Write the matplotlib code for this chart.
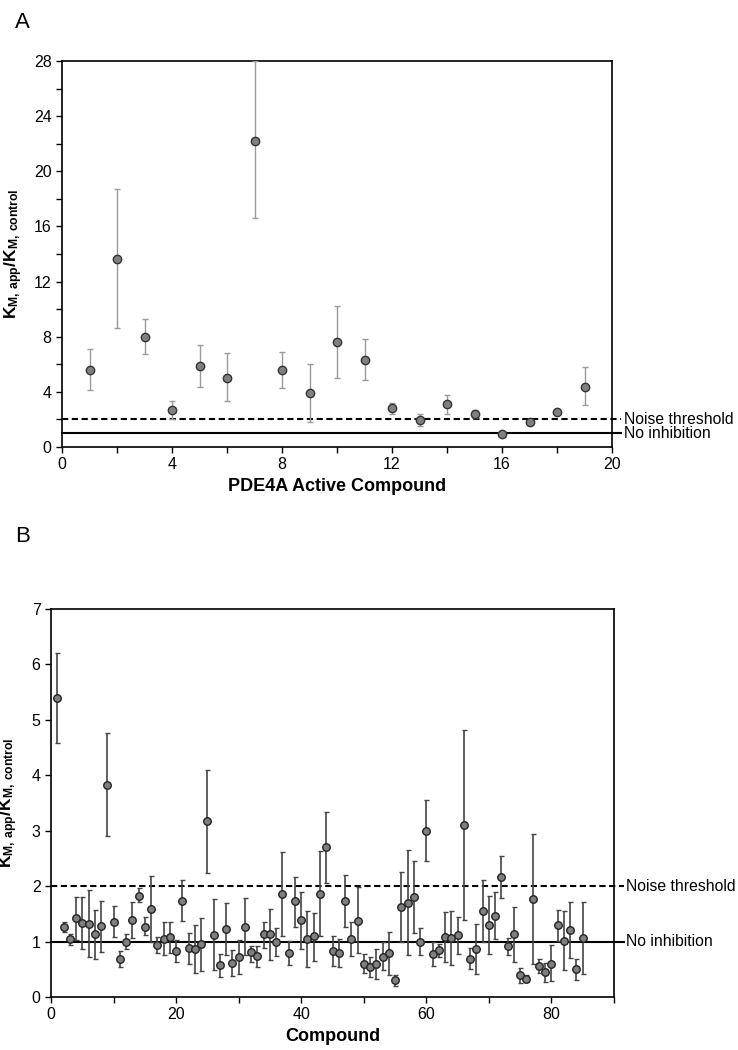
import matplotlib
matplotlib.use("Agg")
import matplotlib.pyplot as plt
import matplotlib.transforms as mtransforms
from matplotlib.ticker import MultipleLocator, FuncFormatter
import numpy as np

plt.rcParams['font.family'] = ['Liberation Sans', 'DejaVu Sans']
plt.rcParams['mathtext.fontset'] = 'custom'
plt.rcParams['mathtext.rm'] = 'Liberation Sans'
plt.rcParams['mathtext.bf'] = 'Liberation Sans:bold'

# Panel A data
a_x = list(range(1, 20))
a_val = [5.61, 13.65, 7.99, 2.71, 5.88, 5.01, 22.22, 5.57, 3.90, 7.62,
         6.29, 2.81, 1.96, 3.10, 2.42, 0.97, 1.79, 2.52, 4.38]
a_hi = [7.14, 18.68, 9.27, 3.34, 7.41, 6.80, 28.0, 6.90, 6.05, 10.21,
        7.84, 3.22, 2.42, 3.80, 2.71, 1.12, 1.92, 2.68, 5.78]
a_lo = [4.11, 8.64, 6.73, 2.06, 4.36, 3.32, 16.58, 4.31, 1.82, 5.03,
        4.84, 2.37, 1.50, 2.42, 2.13, 0.82, 1.66, 2.36, 3.03]

# Panel B data
b_x = list(range(1, 86))
b_val = [5.39, 1.27, 1.04, 1.42, 1.33, 1.32, 1.13, 1.28, 3.82, 1.36,
         0.69, 0.99, 1.39, 1.83, 1.27, 1.59, 0.94, 1.05, 1.08, 0.83,
         1.74, 0.88, 0.875, 0.95, 3.17, 1.125, 0.57, 1.23, 0.61, 0.72,
         1.26, 0.815, 0.74, 1.13, 1.13, 0.99, 1.86, 0.79, 1.73, 1.39,
         1.04, 1.10, 1.86, 2.70, 0.83, 0.79, 1.74, 1.05, 1.375, 0.595,
         0.54, 0.595, 0.73, 0.79, 0.30, 1.625, 1.70, 1.80, 0.99, 3.00,
         0.78, 0.845, 1.09, 1.06, 1.12, 3.10, 0.69, 0.87, 1.55, 1.30,
         1.47, 2.17, 0.92, 1.13, 0.39, 0.33, 1.77, 0.565, 0.45, 0.60,
         1.29, 1.01, 1.21, 0.50, 1.06]
b_hi = [6.21, 1.36, 1.14, 1.81, 1.80, 1.93, 1.57, 1.74, 4.76, 1.65,
        0.83, 1.14, 1.72, 1.96, 1.45, 2.18, 1.09, 1.35, 1.35, 1.03,
        2.11, 1.15, 1.30, 1.43, 4.10, 1.77, 0.78, 1.70, 0.84, 1.02,
        1.79, 0.92, 0.92, 1.36, 1.58, 1.24, 2.61, 1.01, 2.17, 1.90,
        1.55, 1.52, 2.63, 3.33, 1.10, 1.05, 2.20, 1.36, 1.98, 0.77,
        0.73, 0.87, 0.99, 1.18, 0.39, 2.26, 2.65, 2.45, 1.24, 3.55,
        0.99, 0.96, 1.54, 1.55, 1.45, 4.81, 0.88, 1.32, 2.11, 1.83,
        1.90, 2.54, 1.07, 1.63, 0.52, 0.39, 2.94, 0.69, 0.62, 0.93,
        1.57, 1.56, 1.71, 0.69, 1.71]
b_lo = [4.58, 1.18, 0.93, 1.03, 0.87, 0.72, 0.69, 0.82, 2.90, 1.08,
        0.55, 0.86, 1.07, 1.71, 1.11, 1.00, 0.79, 0.76, 0.80, 0.63,
        1.38, 0.60, 0.44, 0.47, 2.24, 0.49, 0.36, 0.76, 0.37, 0.41,
        0.75, 0.64, 0.55, 0.89, 0.67, 0.74, 1.10, 0.57, 1.27, 0.875,
        0.54, 0.65, 1.10, 2.06, 0.56, 0.54, 1.27, 0.74, 0.79, 0.43,
        0.36, 0.33, 0.48, 0.40, 0.20, 1.00, 0.76, 1.15, 0.75, 2.45,
        0.56, 0.72, 0.64, 0.57, 0.78, 1.39, 0.51, 0.42, 1.00, 0.77,
        1.05, 1.78, 0.75, 0.625, 0.26, 0.27, 0.60, 0.43, 0.27, 0.28,
        1.01, 0.48, 0.70, 0.31, 0.41]

noise_threshold = 2.0
no_inhibition = 1.0
ylabel = r'$\mathbf{K_{M,\,app}/K_{M,\,control}}$'

fig = plt.figure(figsize=(7.38, 10.5), dpi=100)
axA = fig.add_axes([62/738, 1-447/1050, (612-62)/738, (447-61)/1050])
axB = fig.add_axes([51/738, 1-997/1050, (614-51)/738, (997-609)/1050])


def ref_lines(ax):
    tr = mtransforms.blended_transform_factory(ax.transAxes, ax.transData)
    ax.plot([0, 1.017], [noise_threshold]*2, transform=tr, color='black',
            lw=1.5, ls=(0, (3, 1.7)), clip_on=False, zorder=1)
    ax.plot([0, 1.017], [no_inhibition]*2, transform=tr, color='black',
            lw=1.5, clip_on=False, zorder=1)
    ax.text(1.021, noise_threshold, 'Noise threshold', transform=tr,
            va='center', ha='left', fontsize=11.3)
    ax.text(1.021, no_inhibition, 'No inhibition', transform=tr,
            va='center', ha='left', fontsize=11.3)


def style(ax):
    for s in ax.spines.values():
        s.set_linewidth(1.2)
    ax.tick_params(direction='out', length=4, width=1, labelsize=11.5)


# Panel A
a_val_arr = np.array(a_val)
yerrA = [a_val_arr - np.array(a_lo), np.array(a_hi) - a_val_arr]
axA.errorbar(a_x, a_val, yerr=yerrA, fmt='o', ms=6, mfc='#808080', mec='#333333',
             mew=1, ecolor='#999999', elinewidth=1, capsize=2, capthick=1, zorder=3)
ref_lines(axA)
axA.set_xlim(0, 20)
axA.set_ylim(0, 28)
axA.xaxis.set_major_locator(MultipleLocator(2))
axA.yaxis.set_major_locator(MultipleLocator(2))
axA.xaxis.set_major_formatter(FuncFormatter(lambda v, p: f'{int(v)}' if int(round(v)) % 4 == 0 else ''))
axA.yaxis.set_major_formatter(FuncFormatter(lambda v, p: f'{int(v)}' if int(round(v)) % 4 == 0 else ''))
style(axA)
axA.set_xlabel('PDE4A Active Compound', fontsize=13, fontweight='bold', labelpad=4)
axA.set_ylabel(ylabel, fontsize=12.5, labelpad=6)

# Panel B
b_val_arr = np.array(b_val)
yerrB = [b_val_arr - np.array(b_lo), np.array(b_hi) - b_val_arr]
axB.errorbar(b_x, b_val, yerr=yerrB, fmt='o', ms=5.4, mfc='#7f7f7f', mec='#222222',
             mew=1, ecolor='#444444', elinewidth=1.2, capsize=1.8, capthick=1, zorder=3)
ref_lines(axB)
axB.set_xlim(0, 90)
axB.set_ylim(0, 7)
axB.xaxis.set_major_locator(MultipleLocator(10))
axB.yaxis.set_major_locator(MultipleLocator(1))
axB.xaxis.set_major_formatter(FuncFormatter(lambda v, p: f'{int(v)}' if int(round(v)) % 20 == 0 and v < 90 else ''))
style(axB)
axB.set_xlabel('Compound', fontsize=13, fontweight='bold', labelpad=4)
axB.set_ylabel(ylabel, fontsize=12.5, labelpad=8)

fig.text(15/738, 1-22/1050, 'A', fontsize=16, ha='left', va='center')
fig.text(15/738, 1-536/1050, 'B', fontsize=16, ha='left', va='center')

fig.savefig('out.png', dpi=100)
